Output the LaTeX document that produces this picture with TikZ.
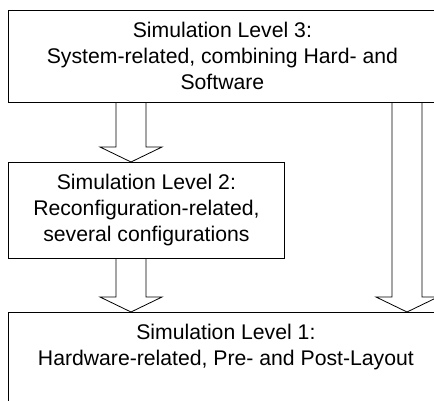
\documentclass[tikz,border=0pt]{standalone}
\usepackage{fontspec}
\setmainfont{Liberation Sans}
\usetikzlibrary{calc,positioning}

\begin{document}
\begin{tikzpicture}[
    x=1pt, y=-1pt,
    font=\fontsize{21.2}{26}\selectfont,
    level/.style={draw, rectangle, line width=0.8pt, align=center, inner xsep=6pt, inner ysep=12pt},
    hollow/.style={draw, line width=0.8pt, line join=miter}
]
    \useasboundingbox (0,0) rectangle (434,401);
    \node[level, anchor=north west, minimum width=428pt, minimum height=90pt] (lvl3) at (8,10)
        {Simulation Level 3:\\System-related, combining Hard- and\\Software};
    \node[level, anchor=north west, minimum width=276pt, minimum height=88pt] (lvl2) at (8,162)
        {Simulation Level 2:\\Reconfiguration-related,\\several configurations};
    \node[level, anchor=north west, minimum width=435pt] (lvl1) at (8,312)
        {Simulation Level 1:\\Hardware-related, Pre- and Post-Layout\\[40pt]\mbox{}};

    \coordinate (l3a) at ([xshift=123pt]lvl3.south west);
    \coordinate (l3b) at ([xshift=399pt]lvl3.south west);
    \coordinate (l2a) at (l3a |- lvl2.north);
    \coordinate (l2b) at (l3a |- lvl2.south);
    \coordinate (l1a) at (l3a |- lvl1.north);
    \coordinate (l1b) at (l3b |- lvl1.north);

    \foreach \src/\dst in {l3a/l2a, l2b/l1a, l3b/l1b}
        \draw[hollow] ($(\src)+(-15,0)$) -- ($(\dst)+(-15,-15)$) -- ($(\dst)+(-31,-15)$)
            -- (\dst) -- ($(\dst)+(31,-15)$) -- ($(\dst)+(15,-15)$) -- ($(\src)+(15,0)$);
\end{tikzpicture}
\end{document}
